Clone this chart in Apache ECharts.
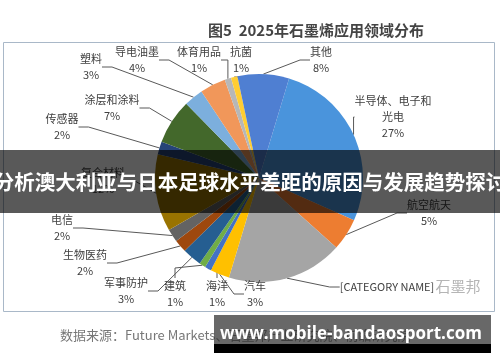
<!DOCTYPE html>
<html><head><meta charset="utf-8">
<script src="https://cdn.jsdelivr.net/npm/echarts@6/dist/echarts.min.js"></script>
<style>html,body{margin:0;padding:0;background:#fff}#c{width:500px;height:362px}</style>
</head><body><div id="c"></div>
<script>
const categories = ['半导体、电子和\n光电','航空航天','[CATEGORY NAME]','汽车','海洋','建筑','军事防护','生物医药','电信','复合材料','传感器','涂层和涂料','塑料','导电油墨','体育用品','抗菌','其他'];
const values = [27,5,18,3,1,1,3,2,2,12,2,7,3,4,1,1,8];
const showPct = [true,true,false,true,true,true,true,true,true,true,true,true,true,true,true,true,true];
const colors = ['#4A94DC','#ED7D31','#A5A5A5','#FFC000','#4472C4','#70AD47','#255E91','#9E480E','#636363','#997300','#264478','#43682B','#7CAFDD','#F1975A','#B7B7B7','#FFCD33','#4F7FD2'];
const labelPos = [[393,117],[429,213],[387,287],[255,294],[217,294],[175,294],[126,291],[85,263],[62,228],[103,181],[62,127],[112,108],[91,67],[137,60],[199,60],[241,60],[321,60]];

const FONT = '"Noto Sans CJK SC","Noto Sans",sans-serif';
const chart = echarts.init(document.getElementById('c'), null, {renderer:'canvas'});
chart.setOption({
  backgroundColor:'#fff',
  animation:false,
  graphic:[
    {type:'rect', z:1, shape:{x:3.5,y:42.5,width:491,height:269}, style:{fill:'none', stroke:'#a9b8c8', lineWidth:1}},
    {type:'text', z:2, style:{text:'图5  2025年石墨烯应用领域分布', x:316, y:30, align:'center', verticalAlign:'middle', font:'bold 15px '+FONT, fill:'#444'}},
    {type:'text', z:2, style:{text:'石墨邦', x:458, y:286, align:'center', verticalAlign:'middle', font:'15px '+FONT, fill:'#b5b5b5'}},
    {type:'text', z:2, style:{text:'数据来源：Future Markets、石墨邦产业研究院、前瞻研究院', x:60, y:335, align:'left', verticalAlign:'middle', font:'13px '+FONT, fill:'#777'}},
    {type:'rect', z:100, shape:{x:0,y:150,width:500,height:63}, style:{fill:'rgba(0,0,0,0.65)'}},
    {type:'text', z:101, style:{text:'分析澳大利亚与日本足球水平差距的原因与发展趋势探讨', x:250, y:182, align:'center', verticalAlign:'middle', font:'bold 20.5px '+FONT, fill:'#fff'}},
    {type:'rect', z:100, shape:{x:214,y:315,width:277,height:29}, style:{fill:'rgba(40,40,40,0.7)'}},
    {type:'rect', z:100, shape:{x:214,y:344,width:277,height:9}, style:{fill:'#000'}},
    {type:'text', z:101, style:{text:'www.mobile-bandaosport.com', x:351, y:334, align:'center', verticalAlign:'middle', font:'bold 17px "Open Sans","Noto Sans",sans-serif', fill:'#fff'}}
  ],
  series:[{
    type:'pie',
    z:10,
    center:[259,178],
    radius:104,
    startAngle:73.2,
    clockwise:true,
    avoidLabelOverlap:false,
    itemStyle:{borderWidth:0},
    label:{show:true, position:'outside', color:'#404040', fontSize:11, fontFamily:FONT, lineHeight:16, align:'center',
      formatter:p=> showPct[p.dataIndex] ? p.name+'\n'+p.value+'%' : p.name},
    labelLine:{show:true, length:10, length2:10, lineStyle:{color:'#595959', width:1}},
    labelLayout:function(params){ const q = labelPos[params.dataIndex]; return {x:q[0], y:q[1], align:'center', verticalAlign:'middle'}; },
    emphasis:{disabled:true},
    data: categories.map((c,i)=>({name:c, value:values[i], itemStyle:{color:colors[i]}}))
  }]
});
</script></body></html>
